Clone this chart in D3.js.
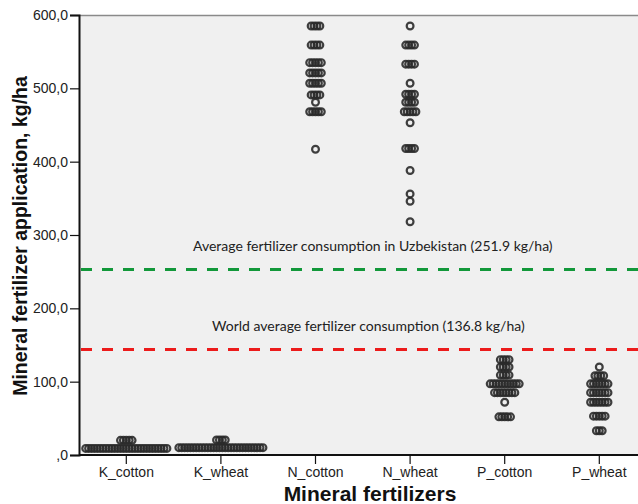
<!DOCTYPE html>
<html>
<head>
<meta charset="utf-8">
<script src="https://cdn.jsdelivr.net/npm/d3@7"></script>
<style>
  body { margin:0; background:#fff; }
  svg { display:block; }
  .tickText { font-family:"Liberation Sans", Arial, sans-serif; font-size:14px; fill:#222; }
  .axisTitle { font-family:"Liberation Sans", Arial, sans-serif; font-size:19.5px; font-weight:bold; fill:#111; }
  .refText { font-family:Lato, "Open Sans", sans-serif; font-size:14px; fill:#222; }
</style>
</head>
<body>
<div id="chart"></div>
<script>

// categories on the x axis
var categories = ["K_cotton", "K_wheat", "N_cotton", "N_wheat", "P_cotton", "P_wheat"];

// dot rows per category: [value kg/ha, number of dots in the row]
var kCotton = [[9, 29], [20, 5]];
var kWheat  = [[10, 30], [20.5, 4]];
var nCotton = [[585, 4], [559, 4], [535, 5], [521, 5], [507, 5], [491, 4], [481, 1], [468, 5], [417, 1]];
var nWheat  = [[585, 1], [559, 4], [533, 4], [507, 1], [492, 4], [481, 4], [468, 5], [453, 1], [418, 4], [388, 1], [356, 1], [346, 1], [318, 1]];
var pCotton = [[130, 4], [120, 4], [109, 4], [97, 11], [85, 8], [72, 1], [52, 5]];
var pWheat  = [[120, 1], [108, 4], [97, 7], [85, 7], [72, 7], [53, 5], [33, 3]];

// y axis ticks
var yTicks = [0, 100, 200, 300, 400, 500, 600];

// reference lines: position on the chart and label
var refValues = [253, 144];
var refLabels = [
  "Average fertilizer consumption in Uzbekistan (251.9 kg/ha)",
  "World average fertilizer consumption (136.8 kg/ha)"
];
var refColors = ["#12983a", "#ec1b1b"];

var dotRows = [kCotton, kWheat, nCotton, nWheat, pCotton, pWheat];

var width = 638, height = 504;
var margin = {left:79, top:15, bottom:49};
var plotBottom = height - margin.bottom;

var svg = d3.select("#chart").append("svg")
  .attr("width", width)
  .attr("height", height);

var x = d3.scaleBand().domain(categories).range([margin.left, margin.left + 6 * 94.6]).padding(0);
var y = d3.scaleLinear().domain([0, 600]).range([plotBottom, margin.top]);

// plot background
svg.append("rect")
  .attr("x", margin.left)
  .attr("y", margin.top)
  .attr("width", x.range()[1] - margin.left)
  .attr("height", plotBottom - margin.top)
  .style("fill", "#f0f0f0");

svg.append("line")
  .attr("x1", margin.left).attr("x2", width)
  .attr("y1", margin.top + 0.5).attr("y2", margin.top + 0.5)
  .style("stroke", "#8a8a8a")
  .style("stroke-width", 1.5);

// reference lines
var refs = svg.selectAll("g.ref")
  .data(refValues)
  .enter().append("g")
  .attr("class", "ref");

refs.append("line")
  .attr("x1", margin.left + 2)
  .attr("x2", width)
  .attr("y1", function(d){ return y(d); })
  .attr("y2", function(d){ return y(d); })
  .style("stroke", function(d,i){ return refColors[i]; })
  .style("stroke-width", 3)
  .style("stroke-dasharray", "11,10");

refs.append("text")
  .attr("class", "refText")
  .attr("x", function(d,i){ return i === 0 ? 193 : 212; })
  .attr("y", function(d){ return y(d) - 18; })
  .text(function(d,i){ return refLabels[i]; });

// dots
var spacing = 2.9;
categories.forEach(function(cat, ci){
  var cx = x(cat) + x.bandwidth() / 2;
  var pts = [];
  dotRows[ci].forEach(function(row){
    var n = row[1];
    for (var i = 0; i < n; i++) {
      pts.push({v:row[0], dx:(i - (n - 1) / 2) * spacing});
    }
  });
  svg.append("g").selectAll("circle")
    .data(pts)
    .enter().append("circle")
    .attr("cx", function(d){ return cx + d.dx; })
    .attr("cy", function(d){ return y(d.v); })
    .attr("r", 3.4)
    .style("fill", "none")
    .style("stroke", "#2a2a2a")
    .style("stroke-width", 2.2)
    .style("stroke-opacity", 0.9);
});

// axes
var yAxis = svg.append("g")
  .attr("transform", "translate(" + margin.left + ",0)")
  .call(d3.axisLeft(y).tickValues(yTicks).tickSize(9).tickPadding(2)
    .tickFormat(function(d){ return d === 0 ? ",0" : d + ",0"; }));

var xAxis = svg.append("g")
  .attr("transform", "translate(0," + plotBottom + ")")
  .call(d3.axisBottom(x).tickSize(9).tickPadding(3));

[yAxis, xAxis].forEach(function(ax){
  ax.select(".domain").style("stroke", "#111").style("stroke-width", 2);
  ax.selectAll(".tick line").style("stroke", "#111").style("stroke-width", 1.2);
  ax.selectAll(".tick text").attr("class", "tickText").attr("fill", null);
});
xAxis.select(".domain").attr("d", "M" + margin.left + ",0H" + width);

// axis titles
svg.append("text")
  .attr("class", "axisTitle")
  .attr("transform", "translate(27,236) rotate(-90)")
  .attr("text-anchor", "middle")
  .text("Mineral fertilizer application, kg/ha");

svg.append("text")
  .attr("class", "axisTitle")
  .attr("x", 370)
  .attr("y", 501)
  .attr("text-anchor", "middle")
  .style("font-size", "21px")
  .text("Mineral fertilizers");

</script>
</body>
</html>
